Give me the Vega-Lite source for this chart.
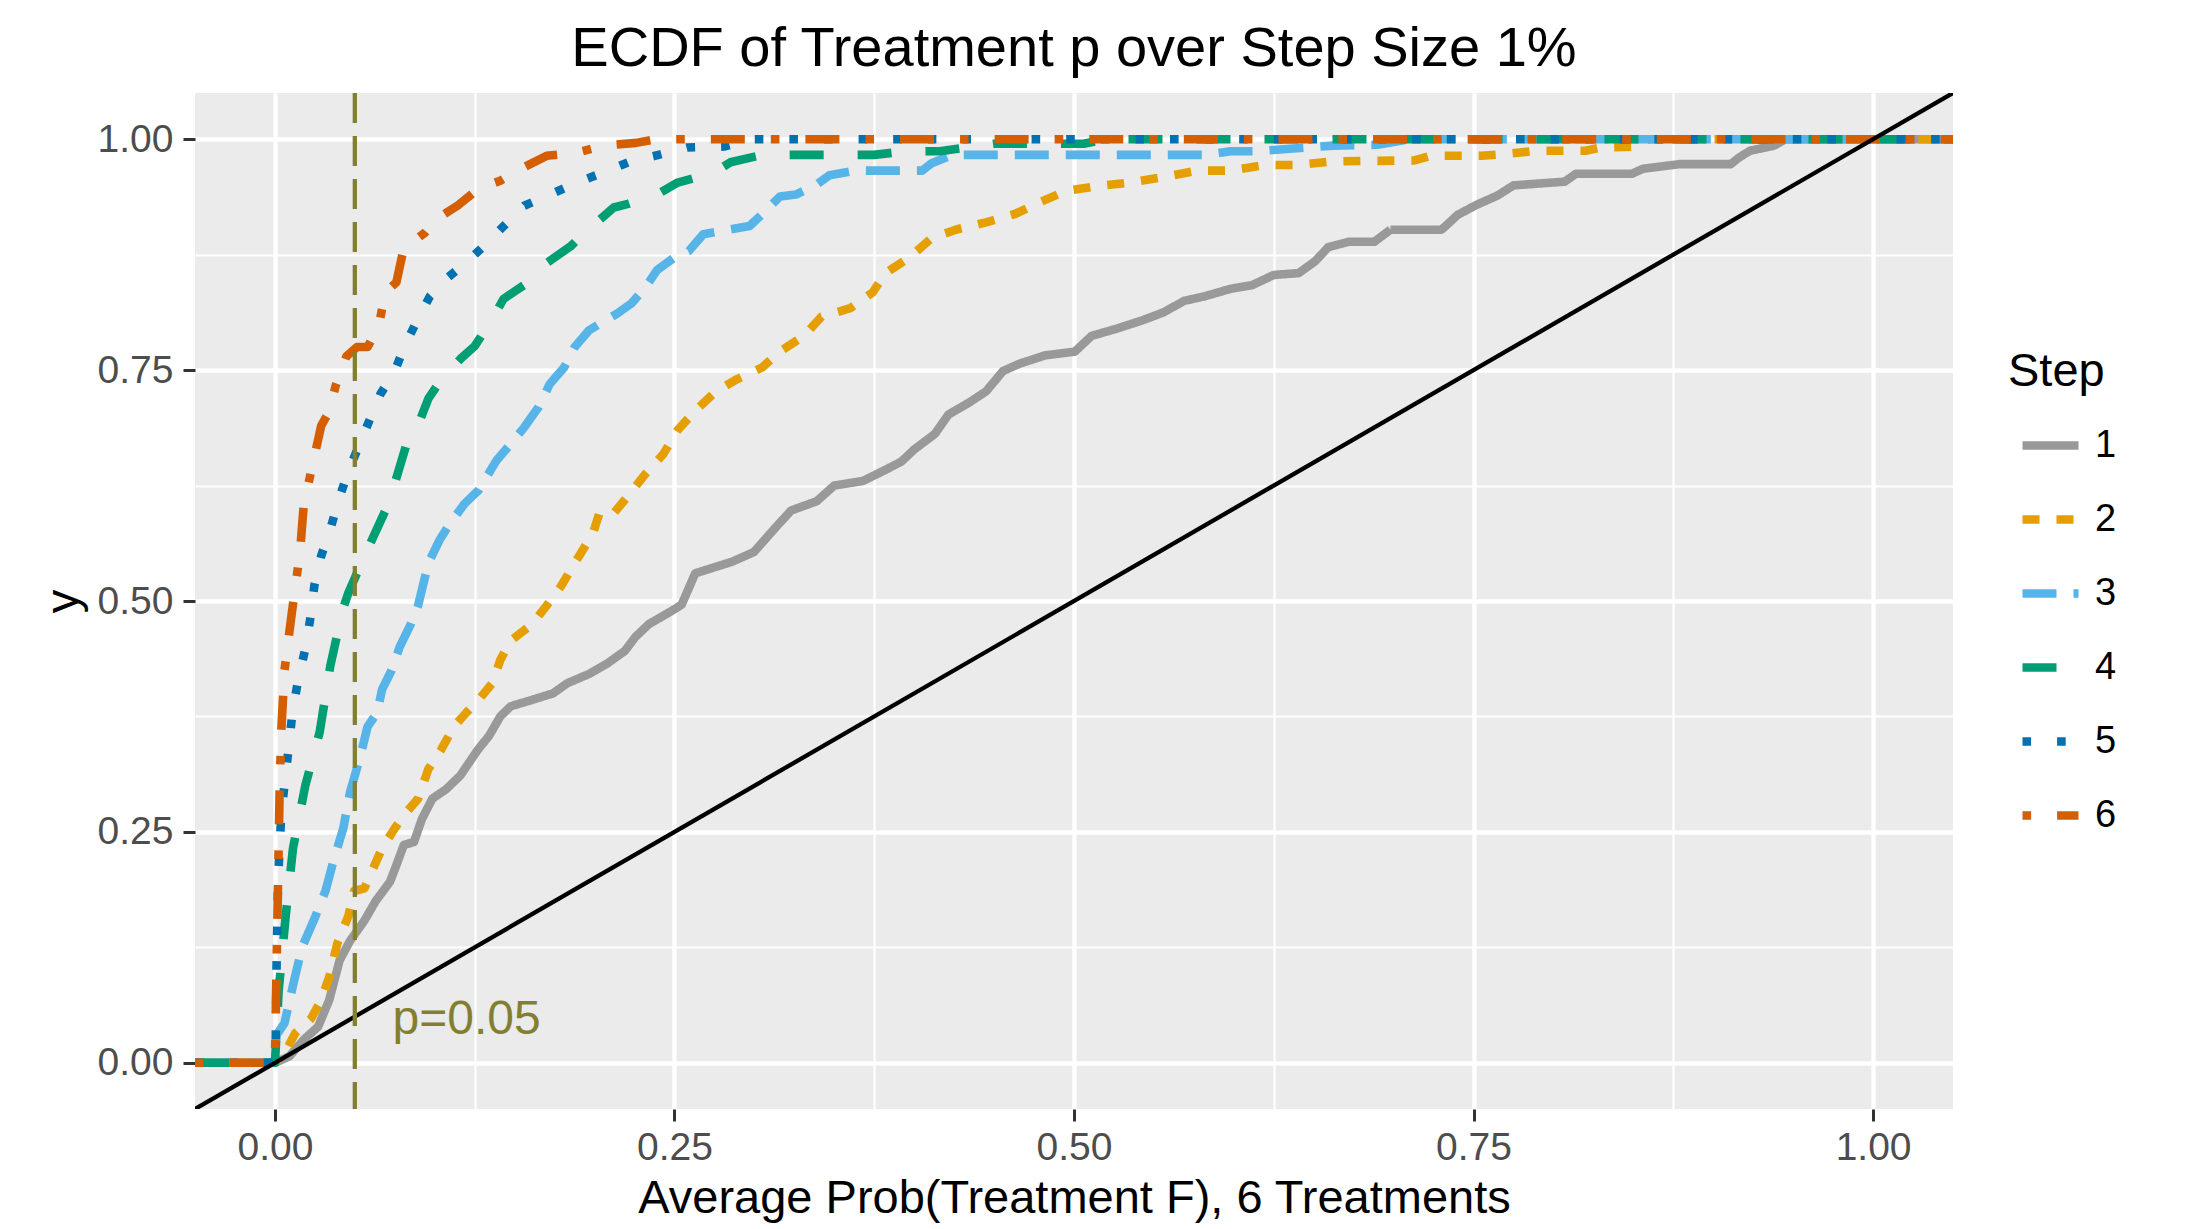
{
  "$schema": "https://vega.github.io/schema/vega-lite/v6.json",
  "width": 1758,
  "height": 1016,
  "autosize": {"type": "none"},
  "padding": {"left": 195, "top": 93, "right": 234, "bottom": 120},
  "background": "#FFFFFF",
  "title": {"text": "ECDF of Treatment p over Step Size 1%", "font": "Liberation Sans", "fontSize": 56, "fontWeight": "normal", "color": "#000000", "anchor": "middle", "baseline": "alphabetic", "offset": 30, "dy": 61},
  "config": {
    "view": {"fill": "#EBEBEB", "stroke": null},
    "axis": {"domain": false, "grid": true, "gridColor": "#FFFFFF", "tickColor": "#333333", "tickSize": 12, "tickWidth": 3, "labelFont": "Liberation Sans", "labelFontSize": 39, "labelColor": "#4D4D4D", "titleFont": "Liberation Sans", "titleFontSize": 47, "titleFontWeight": "normal", "titleColor": "#000000"},
    "legend": {"orient": "none", "legendX": 1813, "legendY": 256, "padding": 0, "titleFont": "Liberation Sans", "titleFontSize": 47, "titleFontWeight": "normal", "titleColor": "#000000", "titlePadding": 17, "labelFont": "Liberation Sans", "labelFontSize": 38, "labelColor": "#000000", "labelOffset": 12, "symbolType": "stroke", "symbolSize": 3136, "symbolStrokeWidth": 8.6, "rowPadding": 22, "symbolOffset": 10}
  },
  "datasets": {
    "ecdf": [
      {"Step":"1","x":-0.05,"y":0},{"Step":"1","x":0,"y":0},{"Step":"1","x":0.009,"y":0.007},{"Step":"1","x":0.018,"y":0.025},{"Step":"1","x":0.027,"y":0.039},{"Step":"1","x":0.034,"y":0.068},{"Step":"1","x":0.0405,"y":0.111},{"Step":"1","x":0.047,"y":0.132},{"Step":"1","x":0.056,"y":0.154},{"Step":"1","x":0.063,"y":0.175},{"Step":"1","x":0.072,"y":0.196},{"Step":"1","x":0.076,"y":0.214},{"Step":"1","x":0.0807,"y":0.236},{"Step":"1","x":0.087,"y":0.239},{"Step":"1","x":0.092,"y":0.264},{"Step":"1","x":0.0985,"y":0.286},{"Step":"1","x":0.107,"y":0.296},{"Step":"1","x":0.116,"y":0.311},{"Step":"1","x":0.127,"y":0.339},{"Step":"1","x":0.134,"y":0.354},{"Step":"1","x":0.141,"y":0.375},{"Step":"1","x":0.1475,"y":0.386},{"Step":"1","x":0.161,"y":0.393},{"Step":"1","x":0.174,"y":0.4},{"Step":"1","x":0.183,"y":0.411},{"Step":"1","x":0.1965,"y":0.421},{"Step":"1","x":0.2077,"y":0.432},{"Step":"1","x":0.219,"y":0.446},{"Step":"1","x":0.2255,"y":0.461},{"Step":"1","x":0.234,"y":0.475},{"Step":"1","x":0.248,"y":0.489},{"Step":"1","x":0.2545,"y":0.496},{"Step":"1","x":0.263,"y":0.53},{"Step":"1","x":0.286,"y":0.5425},{"Step":"1","x":0.2997,"y":0.553},{"Step":"1","x":0.313,"y":0.579},{"Step":"1","x":0.323,"y":0.598},{"Step":"1","x":0.339,"y":0.608},{"Step":"1","x":0.35,"y":0.625},{"Step":"1","x":0.368,"y":0.63},{"Step":"1","x":0.382,"y":0.642},{"Step":"1","x":0.392,"y":0.651},{"Step":"1","x":0.4,"y":0.664},{"Step":"1","x":0.413,"y":0.681},{"Step":"1","x":0.4215,"y":0.702},{"Step":"1","x":0.4345,"y":0.715},{"Step":"1","x":0.445,"y":0.727},{"Step":"1","x":0.4556,"y":0.749},{"Step":"1","x":0.466,"y":0.757},{"Step":"1","x":0.482,"y":0.766},{"Step":"1","x":0.5005,"y":0.77},{"Step":"1","x":0.511,"y":0.787},{"Step":"1","x":0.527,"y":0.795},{"Step":"1","x":0.543,"y":0.804},{"Step":"1","x":0.556,"y":0.8125},{"Step":"1","x":0.569,"y":0.825},{"Step":"1","x":0.582,"y":0.83},{"Step":"1","x":0.598,"y":0.838},{"Step":"1","x":0.6115,"y":0.842},{"Step":"1","x":0.625,"y":0.853},{"Step":"1","x":0.6406,"y":0.855},{"Step":"1","x":0.651,"y":0.868},{"Step":"1","x":0.659,"y":0.883},{"Step":"1","x":0.672,"y":0.889},{"Step":"1","x":0.688,"y":0.889},{"Step":"1","x":0.698,"y":0.902},{"Step":"1","x":0.73,"y":0.902},{"Step":"1","x":0.74,"y":0.918},{"Step":"1","x":0.752,"y":0.929},{"Step":"1","x":0.765,"y":0.939},{"Step":"1","x":0.775,"y":0.95},{"Step":"1","x":0.807,"y":0.954},{"Step":"1","x":0.814,"y":0.9625},{"Step":"1","x":0.849,"y":0.9625},{"Step":"1","x":0.856,"y":0.968},{"Step":"1","x":0.879,"y":0.973},{"Step":"1","x":0.911,"y":0.973},{"Step":"1","x":0.916,"y":0.98},{"Step":"1","x":0.923,"y":0.9875},{"Step":"1","x":0.938,"y":0.993},{"Step":"1","x":0.945,"y":1},{"Step":"1","x":1.05,"y":1},
      {"Step":"2","x":-0.05,"y":0},{"Step":"2","x":0,"y":0},{"Step":"2","x":0.005,"y":0.007},{"Step":"2","x":0.0127,"y":0.032},{"Step":"2","x":0.0227,"y":0.048},{"Step":"2","x":0.029,"y":0.068},{"Step":"2","x":0.034,"y":0.093},{"Step":"2","x":0.039,"y":0.129},{"Step":"2","x":0.046,"y":0.159},{"Step":"2","x":0.0495,"y":0.186},{"Step":"2","x":0.056,"y":0.189},{"Step":"2","x":0.0606,"y":0.207},{"Step":"2","x":0.067,"y":0.232},{"Step":"2","x":0.075,"y":0.254},{"Step":"2","x":0.0807,"y":0.268},{"Step":"2","x":0.0896,"y":0.286},{"Step":"2","x":0.096,"y":0.318},{"Step":"2","x":0.104,"y":0.339},{"Step":"2","x":0.112,"y":0.364},{"Step":"2","x":0.1197,"y":0.379},{"Step":"2","x":0.1275,"y":0.393},{"Step":"2","x":0.136,"y":0.411},{"Step":"2","x":0.141,"y":0.436},{"Step":"2","x":0.1475,"y":0.457},{"Step":"2","x":0.161,"y":0.475},{"Step":"2","x":0.17,"y":0.495},{"Step":"2","x":0.179,"y":0.516},{"Step":"2","x":0.1876,"y":0.541},{"Step":"2","x":0.199,"y":0.573},{"Step":"2","x":0.203,"y":0.595},{"Step":"2","x":0.212,"y":0.595},{"Step":"2","x":0.222,"y":0.616},{"Step":"2","x":0.232,"y":0.638},{"Step":"2","x":0.243,"y":0.659},{"Step":"2","x":0.252,"y":0.685},{"Step":"2","x":0.263,"y":0.706},{"Step":"2","x":0.276,"y":0.727},{"Step":"2","x":0.289,"y":0.74},{"Step":"2","x":0.305,"y":0.753},{"Step":"2","x":0.316,"y":0.77},{"Step":"2","x":0.331,"y":0.787},{"Step":"2","x":0.342,"y":0.808},{"Step":"2","x":0.36,"y":0.817},{"Step":"2","x":0.374,"y":0.834},{"Step":"2","x":0.382,"y":0.855},{"Step":"2","x":0.397,"y":0.872},{"Step":"2","x":0.411,"y":0.893},{"Step":"2","x":0.426,"y":0.902},{"Step":"2","x":0.445,"y":0.91},{"Step":"2","x":0.463,"y":0.919},{"Step":"2","x":0.479,"y":0.932},{"Step":"2","x":0.495,"y":0.944},{"Step":"2","x":0.514,"y":0.949},{"Step":"2","x":0.535,"y":0.953},{"Step":"2","x":0.556,"y":0.959},{"Step":"2","x":0.577,"y":0.966},{"Step":"2","x":0.598,"y":0.966},{"Step":"2","x":0.619,"y":0.972},{"Step":"2","x":0.64,"y":0.972},{"Step":"2","x":0.662,"y":0.976},{"Step":"2","x":0.713,"y":0.977},{"Step":"2","x":0.723,"y":0.982},{"Step":"2","x":0.755,"y":0.982},{"Step":"2","x":0.77,"y":0.984},{"Step":"2","x":0.79,"y":0.9875},{"Step":"2","x":0.82,"y":0.9875},{"Step":"2","x":0.83,"y":0.991},{"Step":"2","x":0.85,"y":0.992},{"Step":"2","x":0.86,"y":1},{"Step":"2","x":1.05,"y":1},
      {"Step":"3","x":-0.05,"y":0},{"Step":"3","x":0,"y":0},{"Step":"3","x":0.001,"y":0.03},{"Step":"3","x":0.006,"y":0.043},{"Step":"3","x":0.0116,"y":0.086},{"Step":"3","x":0.017,"y":0.125},{"Step":"3","x":0.025,"y":0.157},{"Step":"3","x":0.0316,"y":0.186},{"Step":"3","x":0.037,"y":0.221},{"Step":"3","x":0.0428,"y":0.254},{"Step":"3","x":0.047,"y":0.293},{"Step":"3","x":0.053,"y":0.329},{"Step":"3","x":0.058,"y":0.364},{"Step":"3","x":0.064,"y":0.379},{"Step":"3","x":0.067,"y":0.404},{"Step":"3","x":0.073,"y":0.425},{"Step":"3","x":0.078,"y":0.45},{"Step":"3","x":0.085,"y":0.475},{"Step":"3","x":0.0896,"y":0.495},{"Step":"3","x":0.096,"y":0.541},{"Step":"3","x":0.103,"y":0.566},{"Step":"3","x":0.1096,"y":0.584},{"Step":"3","x":0.1185,"y":0.605},{"Step":"3","x":0.1275,"y":0.62},{"Step":"3","x":0.1386,"y":0.652},{"Step":"3","x":0.1475,"y":0.67},{"Step":"3","x":0.156,"y":0.688},{"Step":"3","x":0.165,"y":0.71},{"Step":"3","x":0.172,"y":0.735},{"Step":"3","x":0.181,"y":0.753},{"Step":"3","x":0.1876,"y":0.775},{"Step":"3","x":0.1965,"y":0.793},{"Step":"3","x":0.203,"y":0.8},{"Step":"3","x":0.214,"y":0.811},{"Step":"3","x":0.223,"y":0.822},{"Step":"3","x":0.232,"y":0.84},{"Step":"3","x":0.239,"y":0.858},{"Step":"3","x":0.25,"y":0.872},{"Step":"3","x":0.259,"y":0.879},{"Step":"3","x":0.268,"y":0.897},{"Step":"3","x":0.297,"y":0.906},{"Step":"3","x":0.305,"y":0.919},{"Step":"3","x":0.316,"y":0.938},{"Step":"3","x":0.326,"y":0.94},{"Step":"3","x":0.339,"y":0.951},{"Step":"3","x":0.347,"y":0.961},{"Step":"3","x":0.363,"y":0.966},{"Step":"3","x":0.405,"y":0.966},{"Step":"3","x":0.411,"y":0.974},{"Step":"3","x":0.424,"y":0.983},{"Step":"3","x":0.582,"y":0.983},{"Step":"3","x":0.598,"y":0.987},{"Step":"3","x":0.614,"y":0.987},{"Step":"3","x":0.662,"y":0.993},{"Step":"3","x":0.69,"y":0.994},{"Step":"3","x":0.71,"y":1},{"Step":"3","x":1.05,"y":1},
      {"Step":"4","x":-0.05,"y":0},{"Step":"4","x":0,"y":0},{"Step":"4","x":0.001,"y":0.03},{"Step":"4","x":0.0023,"y":0.077},{"Step":"4","x":0.0068,"y":0.16},{"Step":"4","x":0.0113,"y":0.232},{"Step":"4","x":0.019,"y":0.3},{"Step":"4","x":0.028,"y":0.358},{"Step":"4","x":0.0347,"y":0.43},{"Step":"4","x":0.0425,"y":0.491},{"Step":"4","x":0.046,"y":0.509},{"Step":"4","x":0.058,"y":0.556},{"Step":"4","x":0.0715,"y":0.607},{"Step":"4","x":0.0827,"y":0.672},{"Step":"4","x":0.087,"y":0.679},{"Step":"4","x":0.096,"y":0.719},{"Step":"4","x":0.103,"y":0.737},{"Step":"4","x":0.116,"y":0.762},{"Step":"4","x":0.125,"y":0.776},{"Step":"4","x":0.136,"y":0.805},{"Step":"4","x":0.143,"y":0.827},{"Step":"4","x":0.161,"y":0.848},{"Step":"4","x":0.1676,"y":0.863},{"Step":"4","x":0.185,"y":0.884},{"Step":"4","x":0.194,"y":0.899},{"Step":"4","x":0.212,"y":0.926},{"Step":"4","x":0.221,"y":0.93},{"Step":"4","x":0.241,"y":0.942},{"Step":"4","x":0.252,"y":0.953},{"Step":"4","x":0.275,"y":0.964},{"Step":"4","x":0.285,"y":0.975},{"Step":"4","x":0.305,"y":0.983},{"Step":"4","x":0.375,"y":0.983},{"Step":"4","x":0.395,"y":0.987},{"Step":"4","x":0.416,"y":0.987},{"Step":"4","x":0.45,"y":0.995},{"Step":"4","x":0.506,"y":0.995},{"Step":"4","x":0.52,"y":1},{"Step":"4","x":1.05,"y":1},
      {"Step":"5","x":-0.05,"y":0},{"Step":"5","x":0,"y":0},{"Step":"5","x":0.0005,"y":0.02},{"Step":"5","x":0.001,"y":0.1},{"Step":"5","x":0.002,"y":0.2},{"Step":"5","x":0.004,"y":0.27},{"Step":"5","x":0.009,"y":0.347},{"Step":"5","x":0.011,"y":0.38},{"Step":"5","x":0.0146,"y":0.415},{"Step":"5","x":0.019,"y":0.448},{"Step":"5","x":0.0224,"y":0.484},{"Step":"5","x":0.0247,"y":0.517},{"Step":"5","x":0.029,"y":0.549},{"Step":"5","x":0.0347,"y":0.578},{"Step":"5","x":0.04,"y":0.61},{"Step":"5","x":0.046,"y":0.641},{"Step":"5","x":0.0526,"y":0.668},{"Step":"5","x":0.059,"y":0.695},{"Step":"5","x":0.066,"y":0.724},{"Step":"5","x":0.075,"y":0.749},{"Step":"5","x":0.0816,"y":0.778},{"Step":"5","x":0.0894,"y":0.805},{"Step":"5","x":0.097,"y":0.83},{"Step":"5","x":0.108,"y":0.85},{"Step":"5","x":0.1207,"y":0.868},{"Step":"5","x":0.133,"y":0.888},{"Step":"5","x":0.1443,"y":0.908},{"Step":"5","x":0.156,"y":0.928},{"Step":"5","x":0.172,"y":0.94},{"Step":"5","x":0.189,"y":0.953},{"Step":"5","x":0.2055,"y":0.964},{"Step":"5","x":0.221,"y":0.975},{"Step":"5","x":0.24,"y":0.983},{"Step":"5","x":0.258,"y":0.991},{"Step":"5","x":0.281,"y":0.992},{"Step":"5","x":0.299,"y":1},{"Step":"5","x":1.05,"y":1},
      {"Step":"6","x":-0.05,"y":0},{"Step":"6","x":0,"y":0},{"Step":"6","x":0.0003,"y":0.03},{"Step":"6","x":0.001,"y":0.1},{"Step":"6","x":0.002,"y":0.2},{"Step":"6","x":0.003,"y":0.3},{"Step":"6","x":0.004,"y":0.36},{"Step":"6","x":0.006,"y":0.425},{"Step":"6","x":0.0105,"y":0.486},{"Step":"6","x":0.0157,"y":0.553},{"Step":"6","x":0.018,"y":0.603},{"Step":"6","x":0.0236,"y":0.648},{"Step":"6","x":0.029,"y":0.69},{"Step":"6","x":0.0336,"y":0.704},{"Step":"6","x":0.038,"y":0.733},{"Step":"6","x":0.0448,"y":0.765},{"Step":"6","x":0.0514,"y":0.775},{"Step":"6","x":0.058,"y":0.775},{"Step":"6","x":0.065,"y":0.798},{"Step":"6","x":0.069,"y":0.834},{"Step":"6","x":0.076,"y":0.845},{"Step":"6","x":0.0805,"y":0.881},{"Step":"6","x":0.094,"y":0.899},{"Step":"6","x":0.1006,"y":0.913},{"Step":"6","x":0.115,"y":0.929},{"Step":"6","x":0.127,"y":0.946},{"Step":"6","x":0.141,"y":0.955},{"Step":"6","x":0.155,"y":0.969},{"Step":"6","x":0.17,"y":0.982},{"Step":"6","x":0.188,"y":0.985},{"Step":"6","x":0.2055,"y":0.993},{"Step":"6","x":0.226,"y":0.996},{"Step":"6","x":0.239,"y":1},{"Step":"6","x":1.05,"y":1}
    ],
    "diag": [{"x": -0.05, "y": -0.05}, {"x": 1.05, "y": 1.05}],
    "vline": [{"x": 0.05}],
    "note": [{"x": 0.12, "y": 0.05, "label": "p=0.05"}]
  },
  "layer": [
    {
      "data": {"name": "ecdf"},
      "mark": {"type": "line", "interpolate": "linear", "strokeWidth": 8.6, "strokeCap": "butt", "strokeJoin": "round", "clip": true},
      "encoding": {
        "x": {"field": "x", "type": "quantitative", "scale": {"domain": [-0.05, 1.05], "nice": false, "zero": false},
          "axis": {"title": "Average Prob(Treatment F), 6 Treatments", "values": [0, 0.125, 0.25, 0.375, 0.5, 0.625, 0.75, 0.875, 1],
            "labelExpr": "datum.value % 0.25 === 0 ? format(datum.value, '.2f') : ''",
            "gridWidth": {"condition": {"test": "datum.value % 0.25 !== 0", "value": 2.2}, "value": 4.3},
            "tickOpacity": {"condition": {"test": "datum.value % 0.25 !== 0", "value": 0}, "value": 1},
            "labelPadding": 7, "titleY": 103, "titleBaseline": "alphabetic"}},
        "y": {"field": "y", "type": "quantitative", "scale": {"domain": [-0.05, 1.05], "nice": false, "zero": false},
          "axis": {"title": "y", "values": [0, 0.125, 0.25, 0.375, 0.5, 0.625, 0.75, 0.875, 1],
            "labelExpr": "datum.value % 0.25 === 0 ? format(datum.value, '.2f') : ''",
            "gridWidth": {"condition": {"test": "datum.value % 0.25 !== 0", "value": 2.2}, "value": 4.3},
            "tickOpacity": {"condition": {"test": "datum.value % 0.25 !== 0", "value": 0}, "value": 1},
            "labelPadding": 10, "titleX": -118, "titleY": 508, "titleAngle": 270, "titleBaseline": "alphabetic"}},
        "color": {"field": "Step", "type": "nominal", "scale": {"domain": ["1", "2", "3", "4", "5", "6"], "range": ["#999999", "#E69F00", "#56B4E9", "#009E73", "#0072B2", "#D55E00"]}, "legend": {"title": "Step"}},
        "strokeDash": {"field": "Step", "type": "nominal", "scale": {"domain": ["1", "2", "3", "4", "5", "6"], "range": [[1, 0], [17, 17], [34, 17], [34, 34], [8.6, 26], [8.6, 26, 34, 26]]}, "legend": {"title": "Step"}}
      }
    },
    {
      "data": {"name": "diag"},
      "mark": {"type": "line", "color": "#000000", "strokeWidth": 4.3, "clip": true},
      "encoding": {"x": {"field": "x", "type": "quantitative"}, "y": {"field": "y", "type": "quantitative"}}
    },
    {
      "data": {"name": "vline"},
      "mark": {"type": "rule", "color": "#828030", "strokeWidth": 4.3, "strokeDash": [30, 13]},
      "encoding": {"x": {"field": "x", "type": "quantitative"}}
    },
    {
      "data": {"name": "note"},
      "mark": {"type": "text", "font": "Liberation Sans", "fontSize": 48, "color": "#828030", "align": "center", "baseline": "middle", "dy": 3},
      "encoding": {"x": {"field": "x", "type": "quantitative"}, "y": {"field": "y", "type": "quantitative"}, "text": {"field": "label"}}
    }
  ]
}
